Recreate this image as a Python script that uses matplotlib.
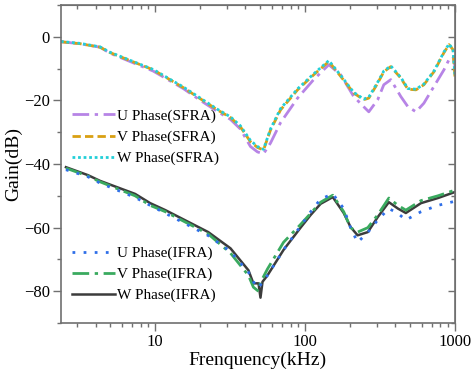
import numpy as np
import matplotlib
matplotlib.use("Agg")
import matplotlib.pyplot as plt
from matplotlib.ticker import MultipleLocator, LogLocator, NullFormatter, FixedLocator

plt.rcParams['font.family'] = ['Liberation Serif', 'DejaVu Serif']

# ---- data (kHz, dB) ----
f_sfra = [2.35, 3.15, 4.29, 5.0, 7.13, 9.7, 15.4, 20, 26, 31.8, 37, 43.2, 48.1, 52.8, 58.8, 68.6,
          89.1, 114, 144, 173, 211, 246, 266, 305, 335, 373, 435, 485, 549, 620, 724, 844, 912, 970, 1000]
u_sfra = [-1.6, -2.2, -3.3, -5.2, -8.2, -10.8, -16.3, -20, -23.5, -26, -29, -34.5, -36.2, -36.8, -33.4, -27,
          -19.3, -13.5, -8.8, -12, -18.8, -22, -23.6, -19.8, -15.1, -13.5, -18.8, -22, -23.6, -20.9, -15.6, -10.4, -7.2, -6.3, -9.4]
v_sfra = [-1.6, -2.2, -3.3, -5.0, -7.9, -10.4, -16, -19.5, -23, -25.4, -28.3, -33.0, -34.8, -35.6, -29.3, -23,
          -16.7, -12, -7.8, -12.5, -17.7, -19.8, -19.3, -14.6, -11, -9.4, -13, -16.5, -16.7, -15.1, -11, -5, -2.5, -4.1, -13]
w_sfra = [-1.5, -2.1, -3.2, -4.9, -7.8, -10.3, -15.8, -19.3, -22.8, -25.2, -28.0, -32.6, -34.5, -35.4, -29.0, -22.6,
          -16.4, -11.7, -7.5, -12.2, -17.5, -19.6, -19.0, -14.3, -10.8, -9.2, -12.8, -16.3, -16.5, -14.9, -10.8, -4.8, -2.3, -4.0, -12.5]

f_ifra = [2.54, 3.56, 4.29, 7.35, 9.26, 11.7, 22.6, 31.8, 41.9, 45.2, 48.9, 50.4, 52.0, 56.1, 71.8,
          93.3, 109, 127, 153, 181, 201, 224, 262, 305, 362, 416, 470, 593, 769, 1000]
u_ifra = [-41.8, -44.0, -46.0, -50.5, -53.0, -55.5, -62.5, -67.5, -74.0, -77.0, -79.0, -78.0, -77.0, -75.0, -67.0,
          -59.5, -55.0, -51.0, -49.4, -54.0, -60.0, -64.6, -61.5, -57.6, -54.0, -55.5, -57.6, -55.0, -53.0, -51.7]
v_ifra = [-41.3, -43.8, -45.6, -50.0, -53.0, -55.0, -62.0, -68.0, -75.0, -78.7, -80.0, -77.0, -76.0, -73.0, -64.6,
          -59.0, -55.5, -52.0, -49.8, -55.0, -60.0, -61.4, -60.0, -56.0, -50.7, -53.0, -54.5, -51.5, -50.0, -48.2]
w_ifra = [-41.0, -43.5, -45.3, -49.4, -52.3, -54.5, -61.4, -66.5, -73.4, -77.5, -77.5, -82.0, -77.0, -75.0, -67.0,
          -60.0, -56.0, -52.5, -50.4, -55.4, -59.8, -62.4, -61.4, -56.7, -52.0, -54.0, -55.4, -52.3, -50.7, -48.8]

fig = plt.figure(figsize=(4.72, 3.74), dpi=100)
ax = fig.add_axes([0.129, 0.136, 0.835, 0.851])

s1, = ax.plot(f_sfra, u_sfra, color="#b784e6", lw=2, dashes=(6, 2, 1.2, 2), label="U Phase(SFRA)")
s2, = ax.plot(f_sfra, v_sfra, color="#d9a013", lw=2, dashes=(3, 1.5), label="V Phase(SFRA)")
s3, = ax.plot(f_sfra, w_sfra, color="#22cfd8", lw=2, dashes=(1, 1), label="W Phase(SFRA)")

i3, = ax.plot(f_ifra, w_ifra, color="#3c3c3c", lw=1.8, label="W Phase(IFRA)")
i2, = ax.plot(f_ifra, v_ifra, color="#3aaa5f", lw=2, dashes=(6, 2, 1.2, 2), label="V Phase(IFRA)")
i1, = ax.plot(f_ifra, u_ifra, color="#2f6fe8", lw=2, dashes=(1, 3), label="U Phase(IFRA)")

ax.set_xscale("log")
ax.set_xlim(2.35, 1000)
ax.set_ylim(-90, 10)
ax.yaxis.set_major_locator(MultipleLocator(20))
ax.yaxis.set_minor_locator(MultipleLocator(10))
ax.xaxis.set_major_locator(FixedLocator([10, 100, 1000]))
ax.xaxis.set_minor_locator(LogLocator(base=10, subs=np.arange(2, 10)))
ax.xaxis.set_minor_formatter(NullFormatter())
ax.set_xticklabels(["10", "100", "1000"])

spc = "#707070"
for s in ax.spines.values():
    s.set_color(spc)
    s.set_linewidth(1.2)
ax.tick_params(which="major", direction="out", length=6, width=1, pad=2, color=spc, labelsize=12)
ax.tick_params(which="minor", direction="out", length=3, width=1, color=spc)

top = ax.secondary_xaxis("top")
top.xaxis.set_major_locator(FixedLocator([10, 100, 1000]))
top.xaxis.set_minor_locator(LogLocator(base=10, subs=np.arange(2, 10)))
top.tick_params(which="major", direction="in", length=5, width=1, color=spc, labeltop=False)
top.tick_params(which="minor", direction="in", length=3, width=1, color=spc)
top.spines["top"].set_color(spc)
right = ax.secondary_yaxis("right")
right.yaxis.set_major_locator(MultipleLocator(20))
right.yaxis.set_minor_locator(MultipleLocator(10))
right.tick_params(which="major", direction="in", length=5, width=1, color=spc, labelright=False)
right.tick_params(which="minor", direction="in", length=3, width=1, color=spc)
right.spines["right"].set_color(spc)

ax.set_xlabel("Frenquency(kHz)", fontsize=14, labelpad=1)
ax.set_ylabel("Gain(dB)", fontsize=14)
ax.yaxis.set_label_coords(-0.097, 0.5)

kw = dict(loc="upper left", frameon=False, fontsize=11, handlelength=2.8,
          handletextpad=0.15, labelspacing=0.48, borderaxespad=0)
leg1 = ax.legend(handles=[s1, s2, s3], bbox_to_anchor=(0.013, 0.692), **kw)
ax.add_artist(leg1)
ax.legend(handles=[i1, i2, i3], bbox_to_anchor=(0.013, 0.261), **kw)

fig.savefig("out.png", dpi=100)
